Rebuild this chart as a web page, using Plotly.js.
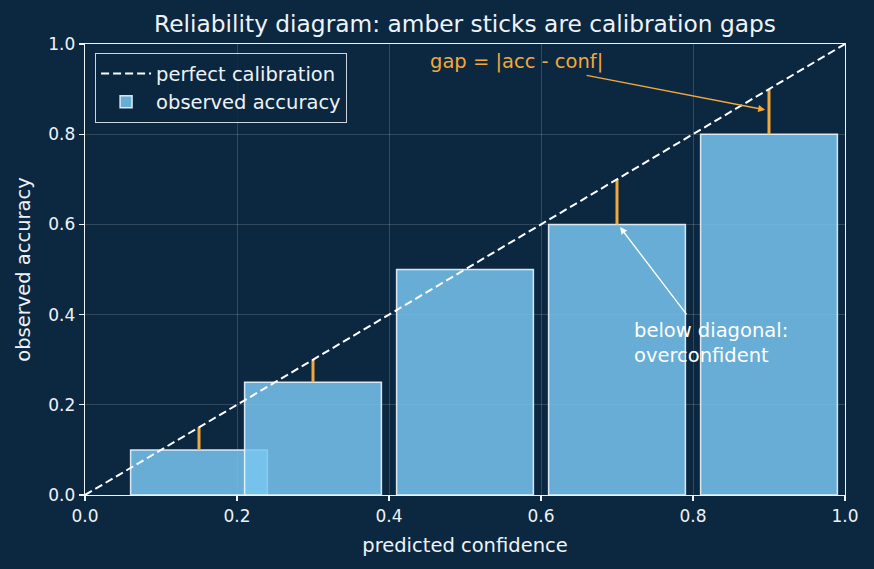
<!DOCTYPE html>
<html>
<head>
<meta charset="utf-8">
<script src="https://cdn.plot.ly/plotly-3.0.1.min.js"></script>
<style>html,body{margin:0;padding:0;background:#0c2740;}#chart{width:874px;height:569px;}</style>
</head>
<body>
<div id="chart"></div>
<script>
// ---- data ----
const binConfidence = [0.15, 0.3, 0.5, 0.7, 0.9];
const binAccuracy   = [0.10, 0.25, 0.50, 0.60, 0.80];
const diagonalX = [0, 1];
const diagonalY = [0, 1];
const axisTicks = [0, 0.2, 0.4, 0.6, 0.8, 1.0];

// ---- build gap sticks from data ----
const gapX = [], gapY = [];
binConfidence.forEach((c, i) => {
  gapX.push(c, c, null);
  gapY.push(binAccuracy[i], c, null);
});

const BG = '#0c2740';
const FG = '#eef3f8';
const AMBER = '#f2a93b';
const FONT = 'DejaVu Sans, sans-serif';

const traces = [
  {
    type: 'bar', x: binConfidence, y: binAccuracy, width: 0.18,
    name: 'observed accuracy',
    marker: { color: 'rgba(120,198,240,0.85)', line: { color: 'rgba(236,245,252,0.9)', width: 1.5 } },
    hoverinfo: 'skip'
  },
  {
    type: 'scatter', mode: 'lines', x: gapX, y: gapY,
    line: { color: AMBER, width: 3 }, showlegend: false, hoverinfo: 'skip'
  },
  {
    type: 'scatter', mode: 'lines', x: diagonalX, y: diagonalY,
    name: 'perfect calibration',
    line: { color: '#ffffff', width: 2, dash: '8px,4px' }, hoverinfo: 'skip'
  }
];

const axisCommon = {
  range: [0, 1], tickvals: axisTicks, tickformat: '.1f',
  showline: true, mirror: true, linecolor: FG, linewidth: 1.3,
  ticks: 'outside', ticklen: 5, tickwidth: 1.2, tickcolor: FG,
  gridcolor: 'rgba(255,255,255,0.22)', gridwidth: 0.7,
  zeroline: false, tickfont: { family: FONT, size: 17, color: FG }
};

const layout = {
  width: 874, height: 569,
  paper_bgcolor: BG, plot_bgcolor: BG,
  margin: { l: 85, r: 29, t: 44, b: 74 },
  font: { family: FONT, color: FG },
  barmode: 'overlay',
  title: { text: 'Reliability diagram: amber sticks are calibration gaps',
           font: { family: FONT, size: 23.3, color: FG },
           x: 0.5, xref: 'paper', xanchor: 'center', y: 1 - 24/569, yanchor: 'middle' },
  xaxis: Object.assign({}, axisCommon, {
    title: { text: 'predicted confidence', font: { family: FONT, size: 19.5, color: FG }, standoff: 13 }
  }),
  yaxis: Object.assign({}, axisCommon, {
    title: { text: 'observed accuracy', font: { family: FONT, size: 19.5, color: FG }, standoff: 12 }
  }),
  showlegend: true,
  legend: {
    x: 0.013, y: 0.98, xanchor: 'left', yanchor: 'top',
    bgcolor: 'rgba(12,39,64,0.85)', bordercolor: 'rgba(236,245,252,0.85)', borderwidth: 1.2,
    font: { family: FONT, size: 19.5, color: FG }, traceorder: 'reversed',
    tracegroupgap: 0, itemwidth: 50
  },
  annotations: [
    { xref: 'x', yref: 'y', x: 0.451, y: 0.962, text: 'gap = |acc - conf|', showarrow: false,
      xanchor: 'left', yanchor: 'middle', font: { family: FONT, size: 19.5, color: AMBER } },
    { xref: 'x', yref: 'y', x: 0.895, y: 0.854, axref: 'x', ayref: 'y', ax: 0.658, ay: 0.931,
      text: '', showarrow: true, arrowhead: 2, arrowsize: 1, arrowwidth: 1.4, arrowcolor: AMBER,
      font: { size: 1 } },
    { xref: 'x', yref: 'y', x: 0.72, y: 0.336, text: 'below diagonal:<br>overconfident', showarrow: false,
      xanchor: 'left', yanchor: 'middle', align: 'left', font: { family: FONT, size: 19.5, color: '#ffffff' } },
    { xref: 'x', yref: 'y', x: 0.704, y: 0.594, axref: 'x', ayref: 'y', ax: 0.793, ay: 0.397,
      text: '', showarrow: true, arrowhead: 2, arrowsize: 1, arrowwidth: 1.4, arrowcolor: '#ffffff',
      font: { size: 1 } }
  ]
};

Plotly.newPlot('chart', traces, layout, { displayModeBar: false, staticPlot: true });
</script>
</body>
</html>
